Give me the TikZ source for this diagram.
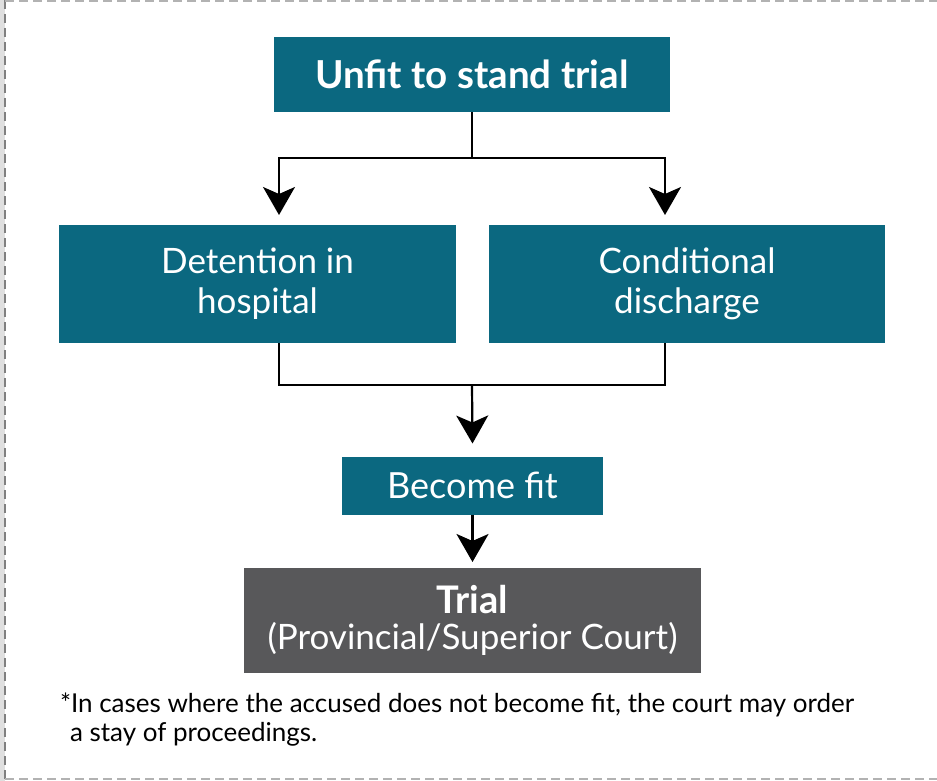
\documentclass[tikz,border=0pt]{standalone}
\usepackage{fontspec}
\setmainfont{Lato}
\usetikzlibrary{arrows.meta}
\definecolor{boxteal}{HTML}{0B6880}
\definecolor{trialgray}{HTML}{58585A}

\begin{document}
\begin{tikzpicture}[x=1pt,y=-1pt,every node/.style={outer sep=0pt,inner sep=0pt,text=white,align=center}]
      \tikzstyle{box}=[fill=boxteal,font=\fontsize{35}{40}\selectfont]
      \tikzstyle{link}=[line width=2.2pt,-{Stealth[length=28pt,width=32pt,inset=7pt]}]
      \tikzstyle{frame}=[line width=1.5pt,gray!60,dash pattern=on 9pt off 5pt]

      \useasboundingbox (0,0) rectangle (937,781);
      % dashed frame, open on the right
      \draw [line width=5pt,gray!25] (2.5,0) -- (2.5,781);
      \draw [frame,line width=2pt,gray] (5,0) -- (5,781);
      \draw [frame] (5,1) -- (937,1);
      \draw [frame] (5,779) -- (937,779);

      \node (unfit) at (472,74.5) [box,minimum width=396pt,minimum height=75pt,font=\bfseries\fontsize{38.5}{40}\selectfont] {Unfit to stand trial};
      \node (detain) at (257.5,284) [box,minimum width=397pt,minimum height=118pt] {Detention in\\hospital};
      \node (discharge) at (687,284) [box,minimum width=396pt,minimum height=118pt] {Conditional\\discharge};
      \node (fit) at (472.5,485.5) [box,minimum width=261pt,minimum height=58pt,font=\fontsize{36}{40}\selectfont] {Become fit};
      \node (trial) at (472.5,620.5) [box,fill=trialgray,minimum width=457pt,minimum height=105pt,font=\fontsize{35}{36}\selectfont] {{\bfseries\fontsize{38}{36}\selectfont Trial}\\(Provincial/Superior Court)};
      \node (note) at (60,741) [anchor=base west,text=black,align=left,font=\fontsize{26}{28.5}\selectfont] {*In cases where the accused does not become fit, the court may order\\\hspace*{10pt}a stay of proceedings.};

      \coordinate (split) at (472,158);
      \coordinate (join) at (472,385);
      \draw [line width=2.2pt] (unfit.south) -- (split);
      \draw [link] (split) -| ([xshift=21.5pt,yshift=10pt]detain.north);
      \draw [link] (split) -| ([xshift=-22pt,yshift=10pt]discharge.north);
      \draw [line width=2.2pt] ([xshift=21.5pt]detain.south) |- (join) -| ([xshift=-22pt]discharge.south);
      \draw [link] (join) -- ([yshift=13pt]fit.north);
      \draw [link] (fit.south) -- ([yshift=6pt]trial.north);
    \end{tikzpicture}
\end{document}
